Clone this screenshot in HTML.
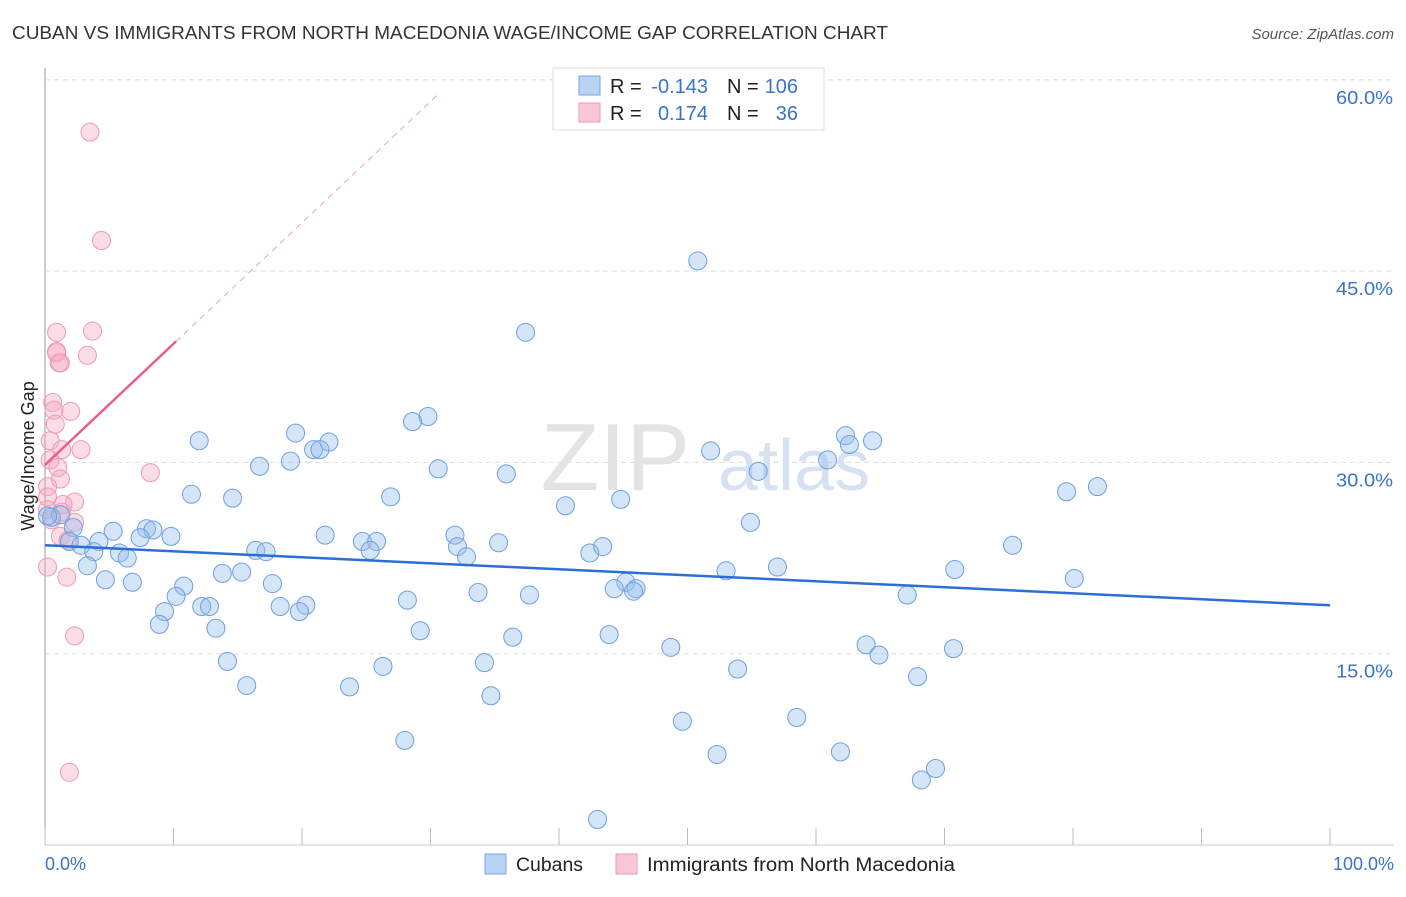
<!DOCTYPE html>
<html><head><meta charset="utf-8"><style>
body{margin:0;background:#fff;font-family:"Liberation Sans",sans-serif;}
svg text{font-family:"Liberation Sans",sans-serif;}
</style></head><body>
<svg width="1406" height="892" viewBox="0 0 1406 892">
<text x="12" y="39" font-size="18" fill="#333" textLength="876" lengthAdjust="spacingAndGlyphs">CUBAN VS IMMIGRANTS FROM NORTH MACEDONIA WAGE/INCOME GAP CORRELATION CHART</text>
<text x="1394" y="39" font-size="15" fill="#555" font-style="italic" text-anchor="end">Source: ZipAtlas.com</text>
<g id="grid"></g>
<text x="690" y="490" font-size="96" fill="#e4e4e4" font-family="Liberation Serif" text-anchor="end">ZIP</text>
<text x="718" y="490" font-size="72" fill="#d6e2f2">atlas</text>
<g id="pts"></g>
<g id="trends"></g>
<text x="34" y="456" font-size="18" fill="#222" text-anchor="middle" transform="rotate(-90 34 456)">Wage/Income Gap</text>
<text x="45" y="870" font-size="18" fill="#3a73c8">0.0%</text>
<text x="1394" y="870" font-size="18" fill="#3a73c8" text-anchor="end">100.0%</text>
<g>
<rect x="553" y="68" width="271" height="62" fill="#fff" stroke="#ddd"/>
<rect x="579" y="76" width="21" height="19" fill="#b8d3f3" stroke="#7aa6e0"/>
<rect x="579" y="103" width="21" height="19" fill="#f9c8d6" stroke="#ee9ab2"/>
<text x="610" y="93" font-size="20" fill="#222">R =</text>
<text x="708" y="93" font-size="20" fill="#3a73c8" text-anchor="end">-0.143</text>
<text x="727" y="93" font-size="20" fill="#222">N =</text>
<text x="798" y="93" font-size="20" fill="#3a73c8" text-anchor="end">106</text>
<text x="610" y="120" font-size="20" fill="#222">R =</text>
<text x="708" y="120" font-size="20" fill="#3a73c8" text-anchor="end">0.174</text>
<text x="727" y="120" font-size="20" fill="#222">N =</text>
<text x="798" y="120" font-size="20" fill="#3a73c8" text-anchor="end">36</text>
</g>
<g>
<rect x="485" y="854" width="21" height="20" fill="#b8d3f3" stroke="#7aa6e0"/>
<text x="516" y="871" font-size="19" fill="#222" textLength="67" lengthAdjust="spacingAndGlyphs">Cubans</text>
<rect x="616" y="854" width="21" height="20" fill="#f9c8d6" stroke="#ee9ab2"/>
<text x="647" y="871" font-size="19" fill="#222" textLength="308" lengthAdjust="spacingAndGlyphs">Immigrants from North Macedonia</text>
</g>
</svg>
<script>
const yTicks=[15,30,45,60];
const xTicks=[0,10,20,30,40,50,60,70,80,90,100];
const blueX=[50.8,37.4,29.8,28.6,12.0,19.5,22.1,20.9,21.4,19.1,16.7,30.6,35.9,51.8,55.5,62.3,62.6,64.4,60.9,79.5,81.9,11.4,14.6,26.9,40.5,44.8,54.9,0.5,1.2,2.2,5.3,7.9,8.4,9.8,7.4,1.9,4.2,2.8,3.8,5.8,6.4,21.8,24.7,25.8,25.3,31.9,32.1,32.8,35.3,16.4,17.2,42.4,43.4,75.3,3.3,4.7,6.8,10.8,13.8,15.3,17.7,53.0,57.0,70.8,80.1,45.2,44.3,46.0,45.8,33.7,37.7,10.2,28.2,67.1,12.2,12.8,18.3,20.3,19.8,9.3,8.9,13.3,29.2,36.4,43.9,48.7,63.9,64.9,70.7,14.2,26.3,34.2,53.9,67.9,15.7,23.7,34.7,58.5,49.6,28.0,61.9,52.3,69.3,68.2,43.0,0.2];
const blueY=[45.8,40.2,33.6,33.2,31.7,32.3,31.6,31.0,31.0,30.1,29.7,29.5,29.1,30.9,29.3,32.1,31.4,31.7,30.2,27.7,28.1,27.5,27.2,27.3,26.6,27.1,25.3,25.7,25.9,24.9,24.6,24.8,24.7,24.2,24.1,23.8,23.8,23.5,23.0,22.9,22.5,24.3,23.8,23.8,23.1,24.3,23.4,22.6,23.7,23.1,23.0,22.9,23.4,23.5,21.9,20.8,20.6,20.3,21.3,21.4,20.5,21.5,21.8,21.6,20.9,20.6,20.1,20.1,19.9,19.8,19.6,19.5,19.2,19.6,18.7,18.7,18.7,18.8,18.3,18.3,17.3,17.0,16.8,16.3,16.5,15.5,15.7,14.9,15.4,14.4,14.0,14.3,13.8,13.2,12.5,12.4,11.7,10.0,9.7,8.2,7.3,7.1,6.0,5.1,2.0,25.8];
const pinkX=[3.5,4.4,0.9,3.7,0.9,0.9,3.3,1.2,1.1,0.6,0.7,2.0,0.8,0.4,1.3,2.8,0.4,1.0,8.2,1.2,0.2,2.3,1.4,0.2,2.3,1.3,1.2,1.8,0.2,1.7,2.3,1.9,0.2,0.5];
const pinkY=[55.9,47.4,40.2,40.3,38.7,38.6,38.4,37.8,37.8,34.7,34.1,34.0,33.0,31.7,31.0,31.0,30.2,29.6,29.2,28.7,28.1,26.9,26.7,26.3,25.3,26.1,24.2,23.9,21.8,21.0,16.4,5.7,27.3,25.5];
const blueTrend=[23.5,18.8];
const pinkTrend=[29.8,0.95];
const X=v=>45+v*12.85, Y=v=>845-v*12.753;
const NS='http://www.w3.org/2000/svg';
function mk(t,a,p){const e=document.createElementNS(NS,t);for(const k in a)e.setAttribute(k,a[k]);p.appendChild(e);return e;}
const g=document.getElementById('grid');
let ax=mk('line',{x1:45,y1:68,x2:45,y2:845,stroke:'#999','stroke-width':1},g);


let bx=mk('line',{x1:45,y1:845,x2:1394,y2:845,stroke:'#ccc','stroke-width':1},g);


yTicks.forEach(t=>{
 const l=mk('line',{x1:45,x2:1394,y1:Y(t),y2:Y(t),stroke:'#ddd','stroke-dasharray':'5,4'},g);
 
 
 const tx=mk('text',{x:1393,y:Y(t)+24,'font-size':18,fill:'#3a73c8','text-anchor':'end',textLength:57,lengthAdjust:'spacingAndGlyphs'},g);
 tx.textContent=t.toFixed(1)+'%';
 
 
});
xTicks.forEach(t=>{
 const l=mk('line',{x1:X(t),x2:X(t),y1:828,y2:845,stroke:'#bbb'},g);
 
 
});
const p=document.getElementById('pts');
pinkX.forEach((x,i)=>{
 const c=mk('circle',{cx:X(x),cy:Y(pinkY[i]),r:9,fill:'rgba(246,170,192,0.4)',stroke:'#ee9ab2','stroke-width':1},p);
 
 
});
blueX.forEach((x,i)=>{
 const c=mk('circle',{cx:X(x),cy:Y(blueY[i]),r:9,fill:'rgba(150,190,238,0.4)',stroke:'#6d9fe0','stroke-width':1},p);
 
 
});
const tr=document.getElementById('trends');
let b=mk('line',{x1:X(0),y1:Y(blueTrend[0]),x2:X(100),y2:Y(blueTrend[1]),stroke:'#2b6fd6','stroke-width':2.5},tr);


let pd=mk('line',{x1:X(10.2),y1:Y(pinkTrend[0]+pinkTrend[1]*10.2),x2:X(30.7),y2:Y(pinkTrend[0]+pinkTrend[1]*30.7),stroke:'#f0a0b8','stroke-width':1,'stroke-dasharray':'6,5'},tr);


let ps=mk('line',{x1:X(0),y1:Y(pinkTrend[0]),x2:X(10.2),y2:Y(pinkTrend[0]+pinkTrend[1]*10.2),stroke:'#e8608a','stroke-width':2.5},tr);


</script>
</body></html>
